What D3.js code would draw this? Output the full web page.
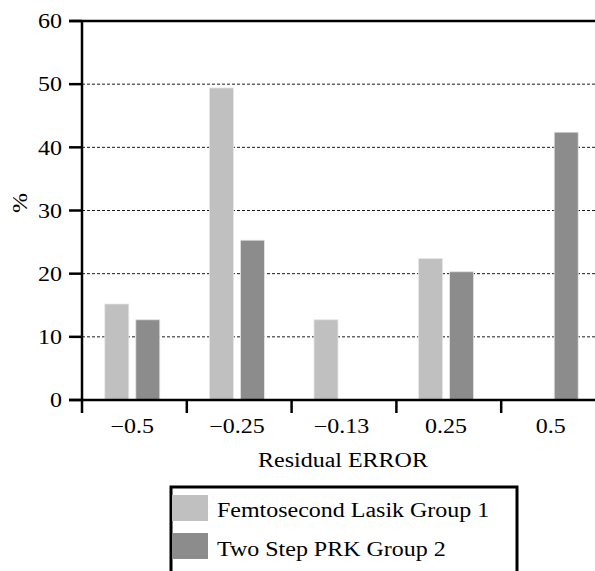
<!DOCTYPE html>
<html><head><meta charset="utf-8">
<script src="https://cdn.jsdelivr.net/npm/d3@7"></script>
<style>body{margin:0;background:#fff}</style>
</head><body><svg id="c" width="595" height="571"></svg>
<script>
const categories = ["\u22120.5","\u22120.25","\u22120.13","0.25","0.5"];
const seriesNames = ["Femtosecond Lasik Group 1","Two Step PRK Group 2"];
const group1 = [15.2, 49.4, 12.7, 22.4, 0];
const group2 = [12.7, 25.3, 0, 20.3, 42.4];
const yTicks = [0,10,20,30,40,50,60];
const colors = ["#c0c0c0","#8c8c8c"];
const FF = "'Liberation Serif'";
const SX = 1.17;

const svg = d3.select("#c");
const y = d3.scaleLinear().domain([0,60]).range([400,21]);
const xTick = d3.scaleBand().domain(categories).range([82,606]).padding(0);
const x = d3.scaleBand().domain(categories).range([80,603]).padding(0);
const xs = d3.scaleBand().domain([0,1]).range([-27.5,27.5]).paddingInner(7/31).paddingOuter(0);

function txt(sel){ return sel.style("font-family",FF).style("font-size","20.5px").attr("fill","#000"); }

// gridlines
svg.append("g").selectAll("line").data(yTicks.filter(d=>d>0&&d<60)).join("line")
  .attr("x1",82).attr("x2",595).attr("y1",d=>y(d)).attr("y2",d=>y(d))
  .attr("stroke","#000").attr("stroke-width",0.9).attr("stroke-dasharray","3,2");

// bars
const data = categories.map((c,i)=>({c, v:[group1[i],group2[i]]}));
const g = svg.append("g");
data.forEach(d=>{
  const cx = x(d.c)+x.bandwidth()/2;
  d.v.forEach((v,k)=>{
    if(v<=0) return;
    g.append("rect").attr("x",cx+xs(k)).attr("width",xs.bandwidth())
      .attr("y",y(v)).attr("height",y(0)-y(v)).attr("fill",colors[k])
      .attr("stroke","#e6e6e6").attr("stroke-width",0.8);
  });
});

// top line at 60
svg.append("line").attr("x1",69).attr("x2",595).attr("y1",y(60)).attr("y2",y(60))
  .attr("stroke","#000").attr("stroke-width",2.5);

// y axis ticks and labels
svg.append("g").selectAll("line").data(yTicks).join("line")
  .attr("x1",69).attr("x2",82).attr("y1",d=>y(d)).attr("y2",d=>y(d))
  .attr("stroke","#000").attr("stroke-width",2.5);
txt(svg.append("g").selectAll("text").data(yTicks).join("text")
  .attr("transform",d=>`translate(62,${y(d)}) scale(${SX},1)`).attr("dy","0.35em")
  .attr("text-anchor","end").text(d=>d));
svg.append("line").attr("x1",82).attr("x2",82).attr("y1",20).attr("y2",413)
  .attr("stroke","#000").attr("stroke-width",2.5);

// x axis
svg.append("line").attr("x1",69).attr("x2",595).attr("y1",400).attr("y2",400)
  .attr("stroke","#000").attr("stroke-width",2.5);
svg.append("g").selectAll("line").data(categories.slice(1)).join("line")
  .attr("x1",d=>xTick(d)).attr("x2",d=>xTick(d)).attr("y1",400).attr("y2",413)
  .attr("stroke","#000").attr("stroke-width",2.5);
txt(svg.append("g").selectAll("text").data(categories).join("text")
  .attr("transform",d=>`translate(${x(d)+x.bandwidth()/2},433) scale(${SX},1)`)
  .attr("text-anchor","middle").text(d=>d));

txt(svg.append("text").attr("transform",`translate(343,467) scale(${SX},1)`)
  .attr("text-anchor","middle").text("Residual ERROR"));
txt(svg.append("text").attr("transform",`translate(27,203) rotate(-90) scale(${SX},1)`)
  .attr("text-anchor","middle").text("%"));

// legend
svg.append("rect").attr("x",171).attr("y",487).attr("width",346).attr("height",120)
  .attr("fill","none").attr("stroke","#000").attr("stroke-width",3);
seriesNames.forEach((n,i)=>{
  svg.append("rect").attr("x",172).attr("y",495+i*38).attr("width",36).attr("height",26).attr("fill",colors[i]);
  txt(svg.append("text").attr("transform",`translate(217,${517+i*39}) scale(${SX},1)`).text(n));
});
</script></body></html>
